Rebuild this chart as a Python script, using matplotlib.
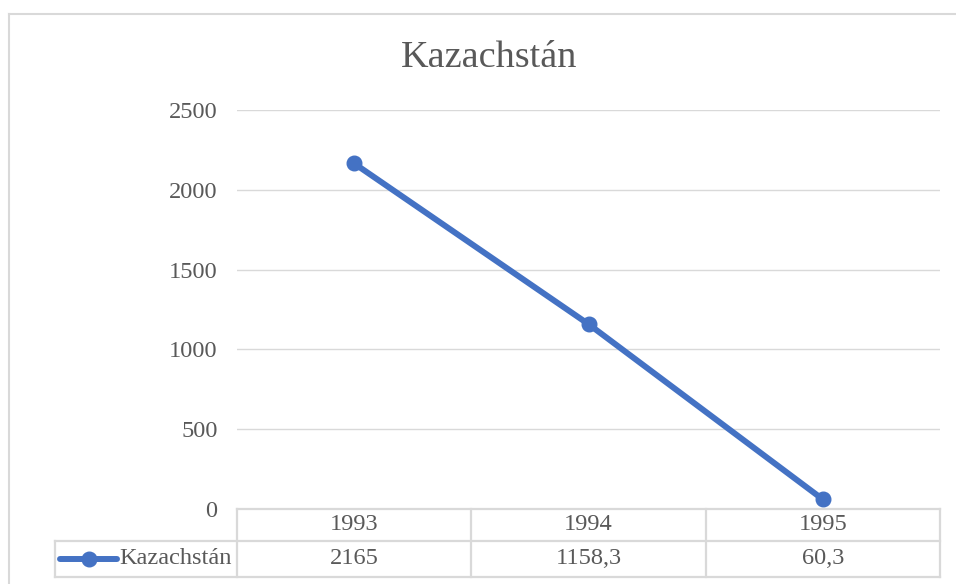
import matplotlib
matplotlib.use("Agg")
import matplotlib.pyplot as plt
from matplotlib.lines import Line2D

# datos
years = ["1993", "1994", "1995"]
values = [2165, 1158.3, 60.3]
value_labels = ["2165", "1158,3", "60,3"]
series_name = "Kazachstán"
yticks = [0, 500, 1000, 1500, 2000, 2500]

blue = "#4472C4"
txt = "#595959"
grid = "#D9D9D9"
fs = 17.6

plt.rcParams['font.family'] = ['Liberation Serif', 'DejaVu Serif']

W, H = 956, 584
fig = plt.figure(figsize=(W / 100, H / 100), dpi=100)

def fx(px):
    return px / W

def fy(py):
    return 1 - py / H

# borde del grafico
fig.add_artist(Line2D([fx(9), 1], [fy(14), fy(14)], color=grid, lw=1.5))
fig.add_artist(Line2D([fx(9), fx(9)], [fy(14), 0], color=grid, lw=1.5))

fig.text(fx(489), fy(58), series_name, ha="center", va="center",
         fontsize=27.5, color=txt)

# area de trazado
left, right, top, bottom = 237, 940, 110, 509
ax = fig.add_axes([fx(left), fy(bottom), fx(right - left), fy(top) - fy(bottom)])
x = list(range(len(years)))
ax.plot(x, values, color=blue, lw=4.3, marker="o", markersize=10.5,
        solid_capstyle="round", zorder=3)
ax.set_xlim(-0.5, len(years) - 0.5)
ax.set_ylim(0, 2500)
ax.set_yticks(yticks)
ax.set_yticklabels([str(t) for t in yticks])
ax.set_xticks([])
ax.tick_params(axis="y", length=0, pad=14, labelsize=fs, labelcolor=txt)
ax.grid(axis="y", color=grid, lw=1)
ax.set_axisbelow(True)
for s in ax.spines.values():
    s.set_visible(False)

# tabla de datos
tb = fig.add_axes([fx(left), fy(577), fx(right - left), fy(509) - fy(577)])
tb.set_xlim(-0.5, len(years) - 0.5)
tb.set_ylim(0, 68)
tb.axis("off")
col_w = (right - left) / len(years)
xl = -0.5 - (left - 55) / col_w
lk = dict(color=grid, lw=1.6, clip_on=False)
tb.plot([-0.5, len(years) - 0.5], [68, 68], **lk)
tb.plot([xl, len(years) - 0.5], [36, 36], **lk)
tb.plot([xl, len(years) - 0.5], [0, 0], **lk)
tb.plot([xl, xl], [0, 36], **lk)
for b in range(len(years) + 1):
    tb.plot([b - 0.5, b - 0.5], [0, 68], **lk)
for i, (yr, lab) in enumerate(zip(years, value_labels)):
    tb.text(i, 52, yr, ha="center", va="center", fontsize=fs, color=txt)
    tb.text(i, 18, lab, ha="center", va="center", fontsize=fs, color=txt)

# clave de leyenda
kx0 = -0.5 - (left - 60) / col_w
kx1 = -0.5 - (left - 117) / col_w
tb.plot([kx0, kx1], [18, 18], color=blue, lw=4.3, solid_capstyle="round", clip_on=False)
tb.plot([(kx0 + kx1) / 2], [18], "o", color=blue, markersize=10.5, clip_on=False)
tb.text(-0.5 - (left - 119) / col_w, 18, series_name, ha="left", va="center",
        fontsize=fs, color=txt)

fig.savefig("out.png", dpi=100)
